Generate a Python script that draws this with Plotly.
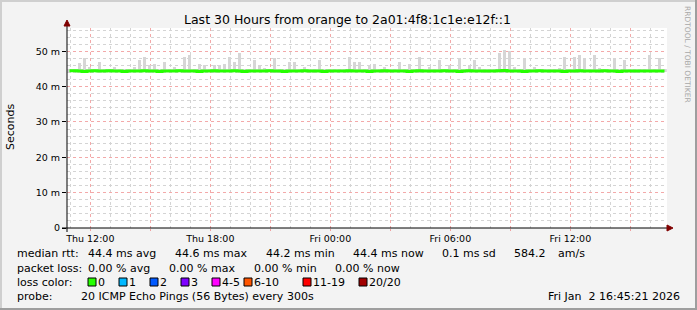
import plotly.graph_objects as go
import pandas as pd

# ---------------- data ----------------
start = pd.Timestamp("2026-01-01 10:50")
end = pd.Timestamp("2026-01-02 16:50")
step_min = 15
times = pd.date_range(start + pd.Timedelta(minutes=step_min / 2), periods=120, freq=f"{step_min}min")

median_ms = [
    44.5, 44.5, 44.4, 44.3, 44.4, 44.5, 44.4, 44.4, 44.5, 44.4,
    44.4, 44.3, 44.4, 44.4, 44.4, 44.5, 44.4, 44.4, 44.3, 44.4,
    44.4, 44.4, 44.5, 44.4, 44.4, 44.4, 44.3, 44.4, 44.4, 44.5,
    44.4, 44.4, 44.4, 44.5, 44.4, 44.3, 44.4, 44.4, 44.4, 44.4,
    44.5, 44.4, 44.4, 44.3, 44.4, 44.4, 44.4, 44.5, 44.4, 44.4,
    44.4, 44.3, 44.4, 44.4, 44.4, 44.4, 44.5, 44.4, 44.4, 44.4,
    44.3, 44.4, 44.4, 44.5, 44.4, 44.4, 44.4, 44.4, 44.3, 44.4,
    44.5, 44.4, 44.4, 44.4, 44.4, 44.5, 44.4, 44.4, 44.3, 44.4,
    44.5, 44.4, 44.4, 44.4, 44.4, 44.4, 44.5, 44.6, 44.4, 44.4,
    44.4, 44.3, 44.4, 44.4, 44.5, 44.4, 44.4, 44.4, 44.4, 44.3,
    44.4, 44.4, 44.5, 44.4, 44.4, 44.4, 44.4, 44.5, 44.4, 44.4,
    44.3, 44.4, 44.4, 44.4, 44.4, 44.4, 44.4, 44.4, 44.4, 44.4,
]

smoke_max_ms = [
    44.9, 45.0, 46.8, 48.0, 45.5, 44.9, 47.0, 45.0, 44.9, 45.5,
    44.9, 45.0, 44.9, 45.5, 47.5, 48.5, 46.0, 46.5, 45.0, 47.0,
    44.9, 45.5, 45.0, 48.5, 49.0, 45.0, 46.5, 46.0, 44.9, 46.0,
    46.0, 46.5, 48.5, 47.0, 49.5, 45.0, 44.9, 47.5, 46.0, 45.3,
    44.9, 48.0, 45.0, 44.9, 47.0, 47.0, 45.0, 45.5, 44.9, 45.0,
    47.5, 44.9, 44.9, 45.0, 44.9, 45.0, 48.5, 47.0, 47.0, 45.0,
    46.0, 46.5, 45.0, 45.5, 44.9, 45.0, 47.0, 45.0, 46.5, 45.0,
    48.5, 45.0, 45.5, 44.9, 47.5, 45.0, 46.0, 44.9, 48.0, 45.0,
    46.0, 47.5, 45.5, 44.9, 45.0, 44.9, 49.5, 50.5, 50.0, 45.5,
    45.0, 48.0, 45.0, 45.5, 44.9, 45.0, 44.9, 45.0, 45.2, 48.5,
    45.0, 48.5, 49.0, 48.0, 45.0, 49.0, 45.2, 44.9, 45.0, 48.0,
    45.0, 47.5, 45.0, 44.9, 45.0, 44.9, 49.0, 45.0, 48.0, 44.9,
]

smoke_min_ms = [
    44.1, 44.1, 44.0, 44.1, 44.1, 44.1, 44.0, 44.1, 44.1, 44.1,
    44.1, 44.0, 44.1, 44.1, 44.1, 44.1, 44.0, 44.1, 44.1, 44.1,
    44.1, 44.1, 44.1, 44.0, 44.1, 44.1, 44.1, 44.1, 44.1, 44.0,
    44.1, 44.1, 44.1, 44.1, 44.0, 44.1, 44.1, 44.1, 44.1, 44.1,
    44.1, 44.0, 44.1, 44.1, 44.1, 44.1, 44.1, 44.1, 44.1, 44.0,
    44.1, 44.1, 44.1, 44.1, 44.1, 44.1, 44.0, 44.1, 44.1, 44.1,
    44.1, 44.1, 44.1, 44.0, 44.1, 44.1, 44.1, 44.1, 44.1, 44.1,
    44.0, 44.1, 44.1, 44.1, 44.1, 44.1, 43.9, 44.1, 44.1, 44.1,
    44.1, 44.1, 44.1, 44.0, 44.1, 44.1, 44.1, 44.0, 44.1, 44.1,
    44.1, 44.1, 44.0, 44.1, 44.1, 44.1, 44.1, 44.1, 44.1, 44.0,
    44.1, 43.9, 44.1, 44.1, 44.1, 44.1, 44.0, 44.1, 44.1, 44.1,
    44.1, 44.1, 44.1, 44.0, 44.1, 44.1, 44.1, 44.1, 44.1, 44.1,
]

x_tick_times = pd.date_range("2026-01-01 12:00", "2026-01-02 15:00", freq="3h")
x_tick_text = ["Thu 12:00", "", "Thu 18:00", "", "Fri 00:00", "", "Fri 06:00", "", "Fri 12:00", ""]
y_tick_vals = [0, 10, 20, 30, 40, 50]
y_tick_text = ["0", "10 m", "20 m", "30 m", "40 m", "50 m"]

title_text = "Last 30 Hours from orange to 2a01:4f8:1c1e:e12f::1"
rtt_labels = ["median rtt:", "44.4 ms avg", "44.6 ms max", "44.2 ms min", "44.4 ms now", "0.1 ms sd", "584.2", "am/s"]
loss_labels_row = ["packet loss:", "0.00 % avg", "0.00 % max", "0.00 % min", "0.00 % now"]
loss_color_labels = ["0", "1", "2", "3", "4-5", "6-10", "11-19", "20/20"]
loss_colors = ["#26ff00", "#00b8ff", "#0059ff", "#7e00ff", "#ff00ff", "#ff5500", "#ff0000", "#a10000"]
probe_text = "20 ICMP Echo Pings (56 Bytes) every 300s"
date_text = "Fri Jan\u00a0\u00a02 16:45:21 2026"

# ---------------- layout helpers ----------------
W, H = 697, 310
L, R, T, B = 67, 667, 28, 228


def px(x):
    return (x - L) / (R - L)


def py(y):
    return (B - y) / (B - T)


FONT = "DejaVu Sans"
step_ms = step_min * 60 * 1000

fig = go.Figure()
# smoke: base band at full width, spikes narrower
fig.add_trace(go.Bar(
    x=times, y=[min(mx, 44.9) - mn for mx, mn in zip(smoke_max_ms, smoke_min_ms)], base=smoke_min_ms,
    width=step_ms, marker=dict(color="#e0e0e0", line_width=0),
    hoverinfo="skip", showlegend=False,
))
fig.add_trace(go.Bar(
    x=times, y=[mx - mn for mx, mn in zip(smoke_max_ms, smoke_min_ms)], base=smoke_min_ms,
    width=step_ms * 0.6, marker=dict(color="#d6d6d6", line_width=0),
    hoverinfo="skip", showlegend=False,
))
fig.add_trace(go.Scatter(
    x=times, y=median_ms, mode="lines",
    line=dict(color=loss_colors[0], width=3, shape="hvh"),
    hoverinfo="skip", showlegend=False,
))

annotations = []


def text(s, x, y, size=11, anchor="left", color="#000000", angle=0):
    annotations.append(dict(
        text=s, x=px(x), y=py(y), xref="paper", yref="paper",
        xanchor=anchor, yanchor="middle", showarrow=False, textangle=angle,
        font=dict(family=FONT, size=size, color=color), borderpad=0,
    ))


text(title_text, 347.5, 19, size=12.5, anchor="center")
text("Seconds", 10, 127, size=11, anchor="center", angle=-90)
text("RRDTOOL / TOBI OETIKER", 688, 54, size=7.5, anchor="center", color="#a8a8a8", angle=90)

row1_x = [16, 87, 174, 265, 352, 441, 513, 557]
for s, x in zip(rtt_labels, row1_x):
    text(s, x, 254)
row2_x = [16, 87, 168, 253, 334]
for s, x in zip(loss_labels_row, row2_x):
    text(s, x, 268)
text("loss color:", 16, 282)
box_x = [88, 119, 150, 181, 212, 244, 303, 359]
shapes = []
for s, c, x in zip(loss_color_labels, loss_colors, box_x):
    shapes.append(dict(type="rect", xref="paper", yref="paper",
                       x0=px(x), x1=px(x + 8), y0=py(286), y1=py(278),
                       fillcolor=c, line=dict(color="#000000", width=1)))
    text(s, x + 9, 282)
text("probe:", 16, 296)
text(probe_text, 80, 296)
text(date_text, 681, 296, anchor="right")

# axes with arrows
shapes.append(dict(type="line", xref="paper", yref="paper", x0=px(62), x1=px(669), y0=py(B), y1=py(B),
                   line=dict(color="#000000", width=1)))
shapes.append(dict(type="line", xref="paper", yref="paper", x0=px(L), x1=px(L), y0=py(232), y1=py(25),
                   line=dict(color="#000000", width=1)))
shapes.append(dict(type="path", xref="paper", yref="paper",
                   path=f"M {px(667)},{py(B - 3)} L {px(673)},{py(B)} L {px(667)},{py(B + 3)} Z",
                   fillcolor="#800000", line=dict(color="#800000", width=1)))
shapes.append(dict(type="path", xref="paper", yref="paper",
                   path=f"M {px(L - 3)},{py(26)} L {px(L)},{py(20)} L {px(L + 3)},{py(26)} Z",
                   fillcolor="#800000", line=dict(color="#800000", width=1)))
# frame
shapes.append(dict(type="line", xref="paper", yref="paper", x0=px(0), x1=px(W), y0=py(1), y1=py(1),
                   line=dict(color="#cfcfcf", width=2)))
shapes.append(dict(type="line", xref="paper", yref="paper", x0=px(1), x1=px(1), y0=py(0), y1=py(H),
                   line=dict(color="#cfcfcf", width=2)))
shapes.append(dict(type="line", xref="paper", yref="paper", x0=px(0), x1=px(W), y0=py(H - 1), y1=py(H - 1),
                   line=dict(color="#9e9e9e", width=2)))
shapes.append(dict(type="line", xref="paper", yref="paper", x0=px(W - 1), x1=px(W - 1), y0=py(0), y1=py(H),
                   line=dict(color="#9e9e9e", width=2)))

fig.update_layout(
    width=W, height=H, autosize=False,
    margin=dict(l=L, r=W - R, t=T, b=H - B, pad=0),
    paper_bgcolor="#f3f3f3", plot_bgcolor="#ffffff",
    bargap=0, barmode="overlay", showlegend=False,
    annotations=annotations, shapes=shapes,
    font=dict(family=FONT, size=9.5, color="#000000"),
    xaxis=dict(
        type="date", range=[start, end], tickvals=list(x_tick_times), ticktext=x_tick_text,
        showgrid=True, gridcolor="#f3a9a9", griddash="dot", gridwidth=1,
        ticks="outside", ticklen=2, tickcolor="#f0a0a0",
        tickfont=dict(family=FONT, size=9.5), zeroline=False, showline=False,
        minor=dict(dtick=3600000, tick0="2026-01-01 11:00", showgrid=True,
                   gridcolor="#d4d4d4", griddash="dot", gridwidth=1),
        fixedrange=True,
    ),
    yaxis=dict(
        range=[0, 56.6], tickvals=y_tick_vals, ticktext=y_tick_text,
        showgrid=True, gridcolor="#f3a9a9", griddash="dot", gridwidth=1,
        ticks="outside", ticklen=4, tickcolor="#000000",
        tickfont=dict(family=FONT, size=9.5), zeroline=False, showline=False,
        minor=dict(dtick=2, showgrid=True, gridcolor="#d4d4d4", griddash="dot", gridwidth=1),
        fixedrange=True,
    ),
)

fig.write_html("out.html", config={"displayModeBar": False})
